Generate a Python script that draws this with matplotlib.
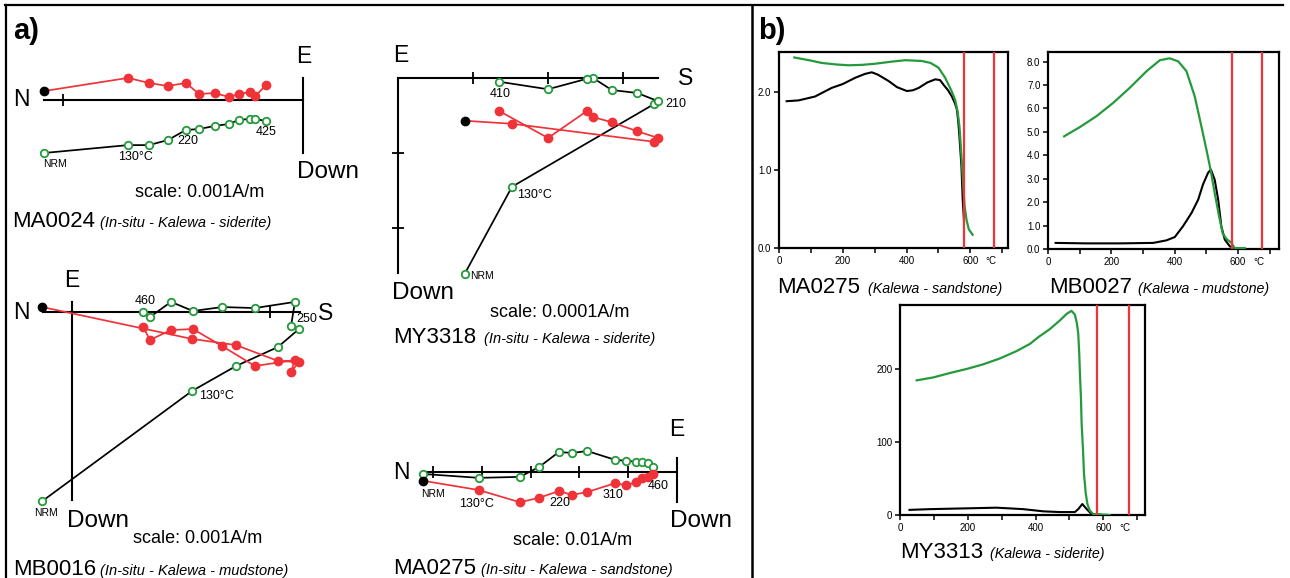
import matplotlib
matplotlib.use('Agg')
import matplotlib.pyplot as plt
import numpy as np

plt.rcParams['font.family'] = ['Liberation Sans', 'DejaVu Sans']

W, H = 1290, 578
RED = '#ef3339'
GREEN = '#249a3c'

# ---------------------------------------------------------
# a) orthogonal plots, values in scale-tick units
#    x     : component along the horizontal (N-S) axis
#    red   : horizontal projection (filled), first step = NRM
#    green : vertical projection (open)
# ---------------------------------------------------------
ma0024_x = [-1.08, -0.729, -0.642, -0.563, -0.488, -0.433, -0.367, -0.308, -0.267, -0.221, -0.198, -0.154]
ma0024_red = [0.035, 0.090, 0.069, 0.056, 0.069, 0.023, 0.027, 0.010, 0.023, 0.031, 0.015, 0.060]
ma0024_green = [-0.223, -0.190, -0.190, -0.169, -0.127, -0.123, -0.110, -0.102, -0.085, -0.081, -0.081, -0.090]

my3318_x = [0.89, 1.52, 3.41, 3.47, 3.19, 2.85, 2.60, 2.52, 2.00, 1.35]
my3318_red = [-0.57, -0.61, -0.85, -0.80, -0.71, -0.59, -0.52, -0.44, -0.80, -0.44]
my3318_green = [-2.61, -1.45, -0.35, -0.31, -0.20, -0.16, 0.00, -0.01, -0.15, -0.05]

mb0016_x = [-0.15, 0.606, 0.828, 1.040, 1.146, 1.106, 1.126, 0.924, 0.758, 0.611, 0.500, 0.394, 0.359]
mb0016_red = [0.025, -0.136, -0.167, -0.247, -0.253, -0.303, -0.242, -0.273, -0.172, -0.086, -0.091, -0.141, -0.076]
mb0016_green = [-0.955, -0.399, -0.273, -0.177, -0.086, -0.071, 0.051, 0.020, 0.025, 0.005, 0.051, -0.025, 0.000]

ma0275_x = [-5.20, -4.06, -3.22, -2.83, -2.42, -2.15, -1.84, -1.27, -1.05, -0.84, -0.72, -0.59, -0.49]
ma0275_red = [-0.18, -0.37, -0.62, -0.53, -0.39, -0.47, -0.41, -0.23, -0.27, -0.21, -0.12, -0.10, -0.04]
ma0275_green = [-0.04, -0.12, -0.10, 0.10, 0.41, 0.39, 0.43, 0.25, 0.23, 0.21, 0.21, 0.18, 0.10]

# ---------------------------------------------------------
# b) thermomagnetic curves (temperature in °C)
# ---------------------------------------------------------
curie_temps = [580, 675]

b1_green_t = [48, 100, 134, 180, 218, 260, 302, 350, 396, 448, 475, 500, 521, 540, 552, 560, 566, 570, 574, 578, 582, 588, 595, 607]
b1_green_k = [2.44, 2.40, 2.37, 2.35, 2.34, 2.345, 2.36, 2.385, 2.405, 2.395, 2.37, 2.31, 2.18, 2.02, 1.90, 1.75, 1.55, 1.30, 1.05, 0.78, 0.53, 0.36, 0.24, 0.17]
b1_black_t = [24, 61, 113, 165, 200, 239, 270, 291, 310, 343, 370, 401, 420, 438, 465, 490, 505, 516, 530, 542, 552, 558, 562, 565, 572, 576, 580]
b1_black_k = [1.88, 1.89, 1.94, 2.05, 2.10, 2.18, 2.23, 2.25, 2.22, 2.14, 2.06, 2.01, 2.02, 2.05, 2.12, 2.16, 2.15, 2.09, 2.02, 1.94, 1.85, 1.77, 1.62, 1.47, 1.05, 0.62, 0.35]

b2_green_t = [51, 100, 153, 205, 258, 311, 353, 384, 411, 437, 463, 484, 500, 513, 526, 540, 551, 563, 579, 589, 621]
b2_green_k = [4.81, 5.20, 5.67, 6.23, 6.88, 7.59, 8.06, 8.14, 8.01, 7.59, 6.52, 5.24, 4.24, 3.39, 2.39, 1.39, 0.68, 0.43, 0.26, 0.04, 0.04]
b2_black_t = [24, 121, 226, 332, 374, 400, 426, 453, 474, 489, 505, 514, 526, 537, 547, 558, 574, 589, 616]
b2_black_k = [0.26, 0.24, 0.24, 0.26, 0.37, 0.51, 0.97, 1.54, 2.11, 2.75, 3.25, 3.39, 2.96, 2.11, 0.97, 0.40, 0.11, 0.04, 0.03]

b3_green_t = [49, 98, 147, 200, 246, 295, 344, 384, 408, 442, 472, 492, 506, 516, 522, 526, 529, 531, 534, 536, 540, 543, 548, 553, 560, 570, 619]
b3_green_k = [184, 188, 194, 200, 206, 214, 224, 234, 243, 254, 266, 275, 279, 274, 262, 248, 220, 193, 160, 125, 90, 56, 30, 15, 6, 1.4, 0]
b3_black_t = [28, 88, 187, 285, 364, 423, 472, 516, 526, 538, 551, 565, 590]
b3_black_k = [7, 8, 9, 10, 8, 5, 4, 4, 8, 15, 8, 1.4, 0.5]

fig = plt.figure(figsize=(W / 100, H / 100), dpi=100)

# background axes in pixel units for frame lines and titles
bg = fig.add_axes([0, 0, 1, 1])
bg.set_xlim(0, W)
bg.set_ylim(H, 0)
bg.axis('off')
bg.plot([5, 1283], [5, 5], color='k', lw=1.6)
bg.plot([6, 6], [5, H], color='k', lw=1.6)
bg.plot([752, 752], [5, H], color='k', lw=1.8)


def label(x, y, s, size=16.5, **kw):
    bg.text(x, y, s, fontsize=size, va='baseline', **kw)


def zij_axes(origin, unit, xr, yr):
    ox, oy = origin
    ax = fig.add_axes([(ox + xr[0] * unit) / W, 1 - (oy - yr[0] * unit) / H,
                       (xr[1] - xr[0]) * unit / W, (yr[1] - yr[0]) * unit / H])
    ax.set_xlim(xr)
    ax.set_ylim(yr)
    ax.axis('off')
    return ax


def zij(ax, x, red, green, hspan, vspan, hticks, vticks, notes):
    x = np.asarray(x)
    red = np.asarray(red)
    green = np.asarray(green)
    ax.plot(hspan, [0, 0], color='k', lw=1.5, clip_on=False)
    ax.plot([0, 0], vspan, color='k', lw=1.5, clip_on=False)
    if hticks:
        ax.plot(hticks, np.zeros(len(hticks)), ls='none', marker='|', ms=9, mew=1.3, color='k', clip_on=False)
    if vticks:
        ax.plot(np.zeros(len(vticks)), vticks, ls='none', marker='_', ms=9, mew=1.3, color='k', clip_on=False)
    ax.plot(x, green, color='k', lw=1.25, zorder=3, clip_on=False)
    ax.plot(x, red, color=RED, lw=1.25, zorder=3, clip_on=False)
    ax.plot(x, green, ls='none', marker='o', ms=5.4, mfc='white', mec=GREEN, mew=1.3, zorder=4, clip_on=False)
    ax.plot(x[1:], red[1:], ls='none', marker='o', ms=6, color=RED, zorder=4, clip_on=False)
    ax.plot(x[:1], red[:1], ls='none', marker='o', ms=6, color='k', zorder=5, clip_on=False)
    for i, txt, series, dx, dy, ha in notes:
        yv = red[i] if series == 'r' else green[i]
        size = 7.5 if txt == 'NRM' else 9
        ax.annotate(txt, xy=(x[i], yv), xytext=(dx, dy), textcoords='offset pixels',
                    ha=ha, va='center', fontsize=size, zorder=6)


# ---- MA0024 ----
ax1 = zij_axes((303, 99.5), 240, (-1.1, 0.0), (-0.25, 0.1))
zij(ax1, ma0024_x, ma0024_red, ma0024_green, (-1.08, 0), (0.09, -0.223), [-1], [],
    [(0, 'NRM', 'g', 11, -11, 'center'), (1, '130°C', 'g', 7, -12, 'center'),
     (4, '220', 'g', 2, -11, 'center'), (11, '425', 'g', 0, -11, 'center')])
label(13, 106, 'N')
label(304, 63, 'E', ha='center')
label(297, 178, 'Down', 17.5)
label(135, 197, 'scale: 0.001A/m', 13)
label(12, 227, 'MA0024', 16)
label(100, 227, '(In-situ - Kalewa - siderite)', 10.5, style='italic')

# ---- MY3318 ----
ax2 = zij_axes((398, 78), 75, (0, 3.5), (-2.65, 0.1))
zij(ax2, my3318_x, my3318_red, my3318_green, (0, 3.47), (0, -2.6), [1, 2, 3], [-1, -2],
    [(9, '410', 'g', 1, -12, 'center'), (3, '210', 'g', 7, -3, 'left'),
     (1, '130°C', 'g', 5, -8, 'left'), (0, 'NRM', 'g', 5, -2, 'left')])
label(393, 62, 'E')
label(678, 85, 'S')
label(392, 299, 'Down', 17.5)
label(490, 317, 'scale: 0.0001A/m', 13)
label(393, 343, 'MY3318', 16)
label(484, 343, '(In-situ - Kalewa - siderite)', 10.5, style='italic')

# ---- MB0016 ----
ax3 = zij_axes((72, 312), 198, (-0.15, 1.15), (-0.96, 0.06))
zij(ax3, mb0016_x, mb0016_red, mb0016_green, (-0.146, 1.15), (0.05, -0.95), [1], [],
    [(12, '460', 'g', 2, 11, 'center'), (4, '250', 'g', 8, 10, 'center'),
     (1, '130°C', 'g', 7, -5, 'left'), (0, 'NRM', 'g', 4, -12, 'center')])
label(13, 319, 'N')
label(72, 287, 'E', ha='center')
label(318, 320, 'S')
label(67, 527, 'Down', 17.5)
label(133, 543, 'scale: 0.001A/m', 13)
label(13, 575, 'MB0016', 16)
label(100, 575, '(In-situ - Kalewa - mudstone)', 10.5, style='italic')

# ---- MA0275 ----
ax4 = zij_axes((677, 472), 48.8, (-5.25, 0), (-0.65, 0.45))
zij(ax4, ma0275_x, ma0275_red, ma0275_green, (-5.2, 0), (0.29, -0.61), [-1, -2, -3, -4, -5], [],
    [(0, 'NRM', 'r', 10, -13, 'center'), (1, '130°C', 'r', -2, -14, 'center'),
     (4, '220', 'r', 1, -12, 'center'), (7, '310', 'r', -2, -12, 'center'),
     (12, '460', 'r', 5, -12, 'center')])
label(393, 479, 'N')
label(677, 436, 'E', ha='center')
label(670, 527, 'Down', 17.5)
label(513, 545, 'scale: 0.01A/m', 13)
label(393, 574, 'MA0275', 16)
label(481, 574, '(In-situ - Kalewa - sandstone)', 10.5, style='italic')

label(13, 39, 'a)', 21, fontweight='bold')
label(758, 39, 'b)', 21, fontweight='bold')


# ---------------------------------------------------------
# b) thermomagnetic panels
# ---------------------------------------------------------
def thermo(px, xmax, ymax, yticks, ylabels, gt, gk, bt, bk):
    l, t, r, b = px
    ax = fig.add_axes([l / W, 1 - b / H, (r - l) / W, (b - t) / H])
    ax.plot(bt, bk, color='k', lw=1.5, zorder=2)
    ax.plot(gt, gk, color=GREEN, lw=1.6, zorder=3)
    for c in curie_temps:
        ax.axvline(c, color=RED, lw=1.6, zorder=4)
    ax.set_xlim(0, xmax)
    ax.set_ylim(0, ymax)
    ax.set_xticks(range(0, 701, 100))
    ax.set_xticklabels(['0', '', '200', '', '400', '', '600', ''])
    ax.set_yticks(yticks)
    ax.set_yticklabels(ylabels)
    ax.tick_params(direction='out', length=3.5, width=1.1, labelsize=7, pad=2)
    for s in ax.spines.values():
        s.set_linewidth(1.6)
    ax.annotate('°C', xy=(665, 0), xycoords=('data', 'axes fraction'), xytext=(0, -5.5),
                textcoords='offset points', ha='center', va='top', fontsize=7)
    return ax


thermo((779, 52, 1008, 248), 718, 2.51, [0, 1, 2], ['0.0', '1.0', '2.0'],
       b1_green_t, b1_green_k, b1_black_t, b1_black_k)
thermo((1048, 52, 1279, 249), 729, 8.41, list(range(9)), [f'{v}.0' for v in range(9)],
       b2_green_t, b2_green_k, b2_black_t, b2_black_k)
thermo((900, 305, 1145, 515), 723, 287, [0, 100, 200], ['0', '100', '200'],
       b3_green_t, b3_green_k, b3_black_t, b3_black_k)

label(777, 293, 'MA0275', 16)
label(868, 293, '(Kalewa - sandstone)', 10.3, style='italic')
label(1049, 293, 'MB0027', 16)
label(1138, 293, '(Kalewa - mudstone)', 10.3, style='italic')
label(900, 558, 'MY3313', 16)
label(990, 558, '(Kalewa - siderite)', 10.3, style='italic')

fig.savefig('out.png', dpi=100)
